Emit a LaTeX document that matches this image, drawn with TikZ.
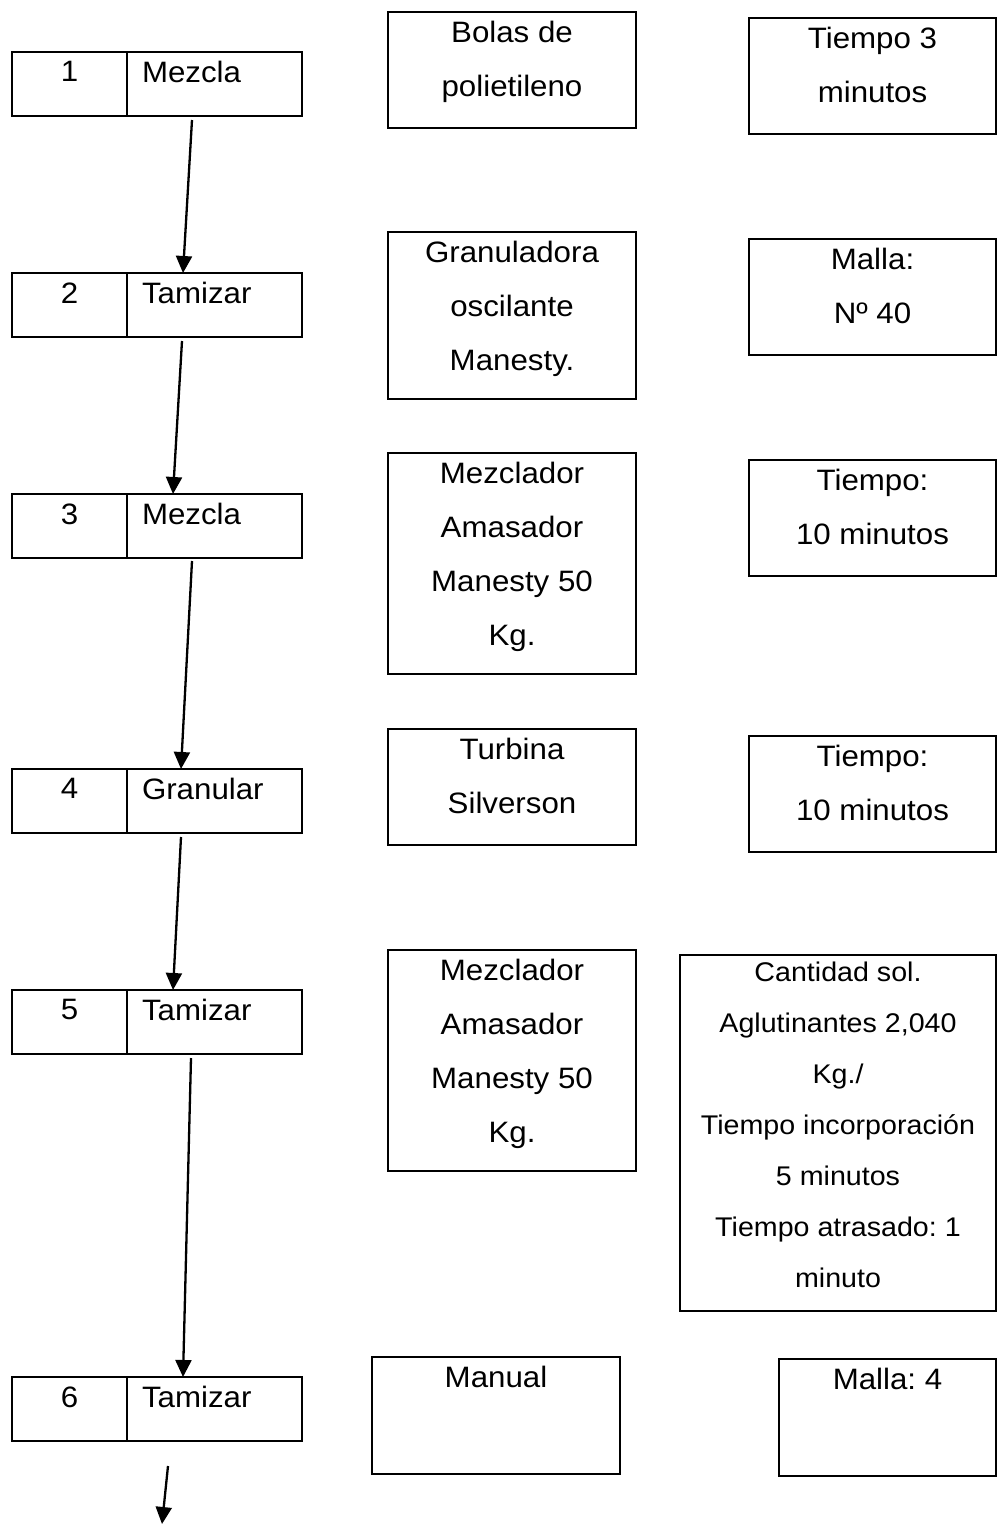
\documentclass[tikz,border=0pt]{standalone}
\usepackage{fontspec}
\setmainfont{Liberation Sans}[FakeStretch=1.06]
\usetikzlibrary{arrows.meta}
\frenchspacing
\begin{document}
\begin{tikzpicture}[x=1pt,y=-1pt,inner sep=0pt,outer sep=0pt,
caja/.style={draw,rectangle,line width=2.7pt,minimum width=#1},
caja/.default=248pt,
texto/.style={anchor=north,align=center,yshift=-9.5pt,font=\fontsize{29.5}{54}\selectfont},
textoch/.style={anchor=north,align=center,yshift=-7pt,font=\fontsize{27}{51}\selectfont},
flecha/.style={-{Triangle[length=17pt,width=16pt]},line width=2.3pt}]
\useasboundingbox (0,0) rectangle (997,1526);
% pasos del proceso
\foreach \n/\y/\paso in {1/84/Mezcla,2/305/Tamizar,3/526/Mezcla,4/801/Granular,5/1022/Tamizar,6/1409/Tamizar}{
  \draw (69.5,\y) node[caja=115pt,minimum height=64pt] (num\n) {};
  \draw (214.5,\y) node[caja=175pt,minimum height=64pt] (lab\n) {};
  \node[texto] (tnum\n) at (num\n.north) {\n};
  \node[texto,anchor=north west,xshift=15pt] (tlab\n) at (lab\n.north west) {\paso};
}
% equipos
\draw (512,70) node[caja,minimum height=116pt] (m1) {};
\draw (512,315.5) node[caja,minimum height=167pt] (m2) {};
\draw (512,563.5) node[caja,minimum height=221pt] (m3) {};
\draw (512,787) node[caja,minimum height=116pt] (m4) {};
\draw (512,1060.5) node[caja,minimum height=221pt] (m5) {};
\draw (496,1415.5) node[caja,minimum height=117pt] (m6) {};
\node[texto] (tm1) at (m1.north) {Bolas de\\polietileno};
\node[texto] (tm2) at (m2.north) {Granuladora\\oscilante\\Manesty.};
\node[texto] (tm3) at (m3.north) {Mezclador\\Amasador\\Manesty 50\\Kg.};
\node[texto] (tm4) at (m4.north) {Turbina\\Silverson};
\node[texto] (tm5) at (m5.north) {Mezclador\\Amasador\\Manesty 50\\Kg.};
\node[texto] (tm6) at (m6.north) {Manual};
% condiciones
\draw (872.5,76) node[caja=247pt,minimum height=116pt] (r1) {};
\draw (872.5,297) node[caja=247pt,minimum height=116pt] (r2) {};
\draw (872.5,518) node[caja=247pt,minimum height=116pt] (r3) {};
\draw (872.5,794) node[caja=247pt,minimum height=116pt] (r4) {};
\draw (838,1133) node[caja=316pt,minimum height=356pt] (r5) {};
\draw (887.5,1417.5) node[caja=217pt,minimum height=117pt] (r6) {};
\node[texto] (tr1) at (r1.north) {Tiempo 3\\minutos};
\node[texto] (tr2) at (r2.north) {Malla:\\Nº 40};
\node[texto] (tr3) at (r3.north) {Tiempo:\\10 minutos};
\node[texto] (tr4) at (r4.north) {Tiempo:\\10 minutos};
\node[textoch] (tr5) at (r5.north) {Cantidad sol.\\Aglutinantes 2,040\\Kg./\\Tiempo incorporación\\5 minutos\\Tiempo atrasado: 1\\minuto};
\node[texto] (tr6) at (r6.north) {Malla: 4};
% flechas
\draw[flecha] ([xshift=-22.5pt,yshift=-4pt]lab1.south) -- ([xshift=-31.5pt]lab2.north);
\draw[flecha] ([xshift=-32.5pt,yshift=-4pt]lab2.south) -- ([xshift=-41.5pt]lab3.north);
\draw[flecha] ([xshift=-22.5pt,yshift=-3pt]lab3.south) -- ([xshift=-33.5pt]lab4.north);
\draw[flecha] ([xshift=-33.5pt,yshift=-4pt]lab4.south) -- ([xshift=-41.5pt]lab5.north);
\draw[flecha] ([xshift=-23.5pt,yshift=-4pt]lab5.south) -- ([xshift=-31.5pt]lab6.north);
\coordinate (fin) at (162,1524);
\draw[flecha] ([xshift=-46.5pt,yshift=-25pt]lab6.south) -- (fin);
\end{tikzpicture}
\end{document}
